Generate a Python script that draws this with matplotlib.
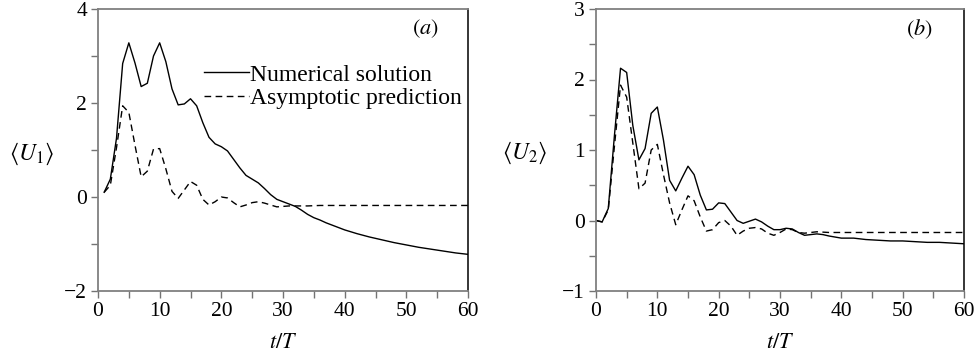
import matplotlib
matplotlib.use("Agg")
import matplotlib.pyplot as plt
from matplotlib.ticker import MultipleLocator

# ---- data ----
t_num_a = [1, 2, 3, 4, 5, 6, 7, 8, 9, 10, 11, 12, 13, 14, 15, 16, 17, 18, 19, 20,
           21, 22, 23, 24, 25, 26, 27, 28, 29, 30, 31, 32, 33, 34, 35, 36, 37, 38,
           40, 42, 44, 46, 48, 50, 52, 54, 56, 58, 60]
num_a = [0.1, 0.38, 1.25, 2.84, 3.28, 2.85, 2.35, 2.42, 3.0, 3.28, 2.88, 2.3, 1.96,
         1.98, 2.09, 1.94, 1.58, 1.27, 1.13, 1.07, 0.98, 0.8, 0.62, 0.46, 0.38,
         0.3, 0.18, 0.05, -0.05, -0.1, -0.15, -0.2, -0.28, -0.37, -0.44, -0.49,
         -0.55, -0.6, -0.7, -0.78, -0.85, -0.91, -0.97, -1.02, -1.07, -1.11,
         -1.15, -1.19, -1.22]

t_asy_a = [1, 2, 3, 4, 5, 6, 7, 8, 9, 10, 11, 12, 13, 14, 15, 16, 17, 18, 19, 20,
           21, 22, 23, 24, 25, 26, 27, 28, 29, 30, 31, 32, 34, 36, 38, 40, 60]
asy_a = [0.1, 0.25, 1.05, 1.94, 1.8, 1.1, 0.43, 0.55, 1.02, 1.03, 0.6, 0.12, -0.03,
         0.15, 0.33, 0.25, -0.05, -0.17, -0.1, 0.0, -0.02, -0.12, -0.21, -0.17,
         -0.12, -0.1, -0.13, -0.17, -0.21, -0.2, -0.19, -0.19, -0.19, -0.18,
         -0.18, -0.18, -0.18]

t_num_b = [0, 1, 2, 3, 4, 5, 6, 7, 8, 9, 10, 11, 12, 13, 14, 15, 16, 17, 18, 19, 20,
           21, 22, 23, 24, 25, 26, 27, 28, 29, 30, 31, 32, 33, 34, 35, 36, 37, 38,
           40, 42, 44, 46, 48, 50, 52, 54, 56, 58, 60]
num_b = [0.0, -0.02, 0.17, 1.2, 2.16, 2.1, 1.35, 0.86, 1.02, 1.52, 1.61, 1.14, 0.57,
         0.42, 0.6, 0.77, 0.65, 0.36, 0.15, 0.16, 0.25, 0.24, 0.12, 0.0, -0.04,
         -0.01, 0.02, -0.02, -0.08, -0.13, -0.13, -0.11, -0.12, -0.17, -0.21,
         -0.2, -0.19, -0.2, -0.22, -0.25, -0.25, -0.27, -0.28, -0.29, -0.29,
         -0.3, -0.31, -0.31, -0.32, -0.33]

t_asy_b = [0, 1, 2, 3, 4, 5, 6, 7, 8, 9, 10, 11, 12, 13, 14, 15, 16, 17, 18, 19, 20,
           21, 22, 23, 24, 25, 26, 27, 28, 29, 30, 31, 32, 33, 34, 36, 38, 60]
asy_b = [0.0, -0.02, 0.15, 1.05, 1.92, 1.75, 1.1, 0.45, 0.53, 1.0, 1.08, 0.65, 0.25,
         -0.06, 0.15, 0.35, 0.28, 0.05, -0.15, -0.13, -0.03, 0.0, -0.08, -0.21,
         -0.15, -0.11, -0.1, -0.12, -0.18, -0.21, -0.17, -0.12, -0.13, -0.17,
         -0.18, -0.16, -0.17, -0.17]

labels = ["Numerical solution", "Asymptotic prediction"]

# ---- style ----
plt.rcParams['font.family'] = ['Liberation Serif', 'DejaVu Serif']
plt.rcParams['mathtext.fontset'] = 'stix'
plt.rcParams['font.size'] = 15

fig = plt.figure(figsize=(9.77, 3.55), dpi=100)
axa = fig.add_axes([98/977, 1-291/355, 370/977, 282/355])
axb = fig.add_axes([596/977, 1-291/355, 368/977, 282/355])

dash = (0, (4.8, 3.2))
lw = 1.0

def style(ax, ylim, ymaj, ymin):
    ax.set_xlim(0, 60)
    ax.set_ylim(*ylim)
    ax.xaxis.set_major_locator(MultipleLocator(10))
    ax.xaxis.set_minor_locator(MultipleLocator(5))
    ax.yaxis.set_major_locator(MultipleLocator(ymaj))
    ax.yaxis.set_minor_locator(MultipleLocator(ymin))
    ax.tick_params(which='both', direction='out', length=5, width=1,
                   color='0.45', labelsize=15.5, pad=3)
    for s in ['left', 'top', 'bottom']:
        ax.spines[s].set_color('0.5')
        ax.spines[s].set_linewidth(1.3)
    ax.spines['right'].set_color('black')
    ax.spines['right'].set_linewidth(1.1)
    ax.set_xlabel('$t/T$', fontsize=16, labelpad=9)

axa.plot(t_num_a, num_a, color='black', lw=lw, label=labels[0])
axa.plot(t_asy_a, asy_a, color='black', lw=lw, ls=dash, label=labels[1])
style(axa, (-2, 4), 2, 1)
axa.text(0.885, 0.93, '$(a)$', transform=axa.transAxes, ha='center', va='center',
         fontsize=16)
axa.set_ylabel(r'$\langle U_1\rangle$', rotation=0, fontsize=17, labelpad=0)
axa.yaxis.set_label_coords(-0.18, 0.44)
axa.legend(loc='center left', bbox_to_anchor=(0.255, 0.725), frameon=False,
           handlelength=1.9, handletextpad=0.05, borderpad=0, labelspacing=0.08,
           fontsize=17)

axb.plot(t_num_b, num_b, color='black', lw=lw)
axb.plot(t_asy_b, asy_b, color='black', lw=lw, ls=dash)
style(axb, (-1, 3), 1, 0.5)
axb.text(0.878, 0.93, '$(b)$', transform=axb.transAxes, ha='center', va='center',
         fontsize=16)
axb.set_ylabel(r'$\langle U_2\rangle$', rotation=0, fontsize=17, labelpad=0)
axb.yaxis.set_label_coords(-0.193, 0.445)

fig.savefig('out.png', dpi=100)
